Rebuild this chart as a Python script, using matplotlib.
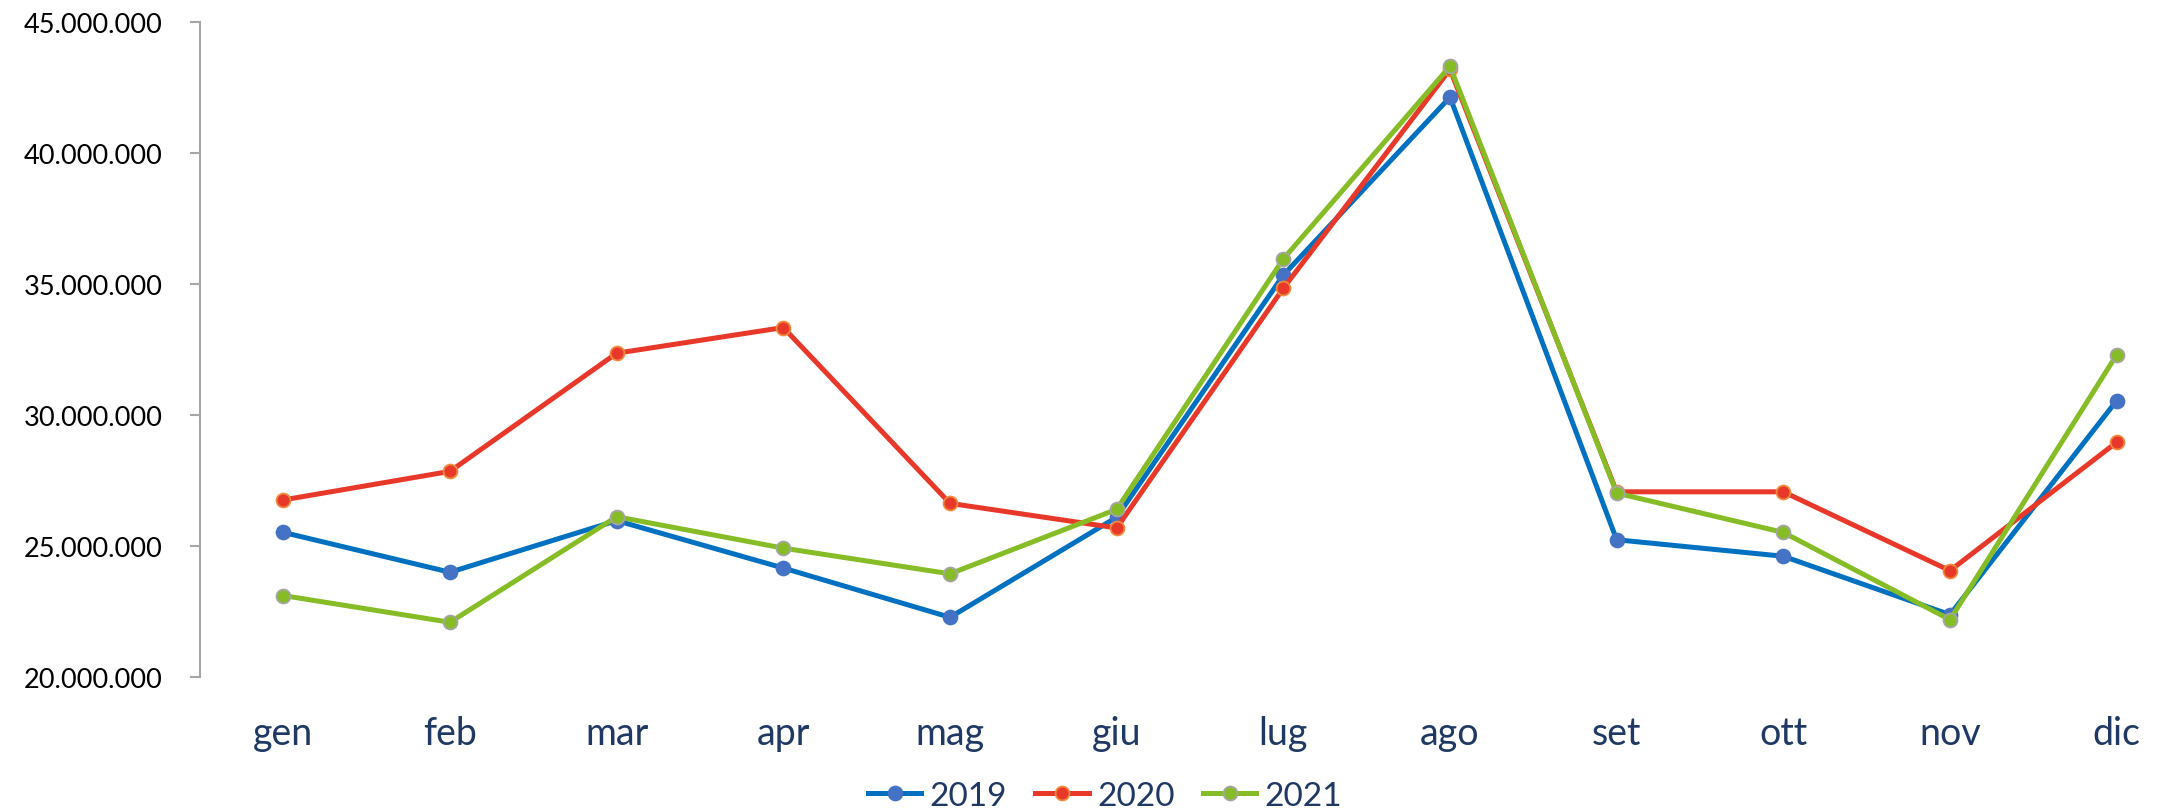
import matplotlib
matplotlib.use("Agg")
import matplotlib.pyplot as plt
from matplotlib.ticker import FuncFormatter

plt.rcParams['font.family'] = ['Lato', 'DejaVu Sans']

months = ['gen', 'feb', 'mar', 'apr', 'mag', 'giu', 'lug', 'ago', 'set', 'ott', 'nov', 'dic']

# values in millions
v2019 = [25.53, 24.01, 25.98, 24.17, 22.29, 26.11, 35.35, 42.14, 25.25, 24.62, 22.39, 30.56]
v2020 = [26.77, 27.86, 32.37, 33.35, 26.64, 25.70, 34.85, 43.20, 27.08, 27.08, 24.07, 28.97]
v2021 = [23.12, 22.10, 26.13, 24.93, 23.95, 26.41, 35.97, 43.32, 27.03, 25.53, 22.20, 32.31]

series = [
    ('2019', v2019, '#0070C0', '#4472C4', '#4472C4'),
    ('2020', v2020, '#E8382A', '#E8382A', '#F08A3C'),
    ('2021', v2021, '#86BC25', '#86BC25', '#A5A5A5'),
]

fig = plt.figure(figsize=(21.65, 8.12), dpi=100)
ax = fig.add_axes([200 / 2165, 1 - 678.3 / 812, 2000 / 2165, (678.3 - 23.3) / 812])

x = list(range(len(months)))
for name, vals, lc, fc, ec in series:
    ax.plot(x, [v * 1e6 for v in vals], color=lc, lw=3.6, marker='o', markersize=10,
            markerfacecolor=fc, markeredgecolor=ec, markeredgewidth=1.3,
            label=name, solid_joinstyle='miter')

ax.set_xlim(-0.5, 11.5)
ax.set_ylim(20e6, 45e6)
ax.set_yticks([20e6, 25e6, 30e6, 35e6, 40e6, 45e6])
ax.yaxis.set_major_formatter(FuncFormatter(lambda v, p: f'{int(v):,}'.replace(',', '.')))
ax.set_xticks(x)
ax.set_xticklabels(months)

for s in ['top', 'right', 'bottom']:
    ax.spines[s].set_visible(False)
ax.spines['left'].set_color('#A6A6A6')
ax.spines['left'].set_linewidth(1.5)

ax.tick_params(axis='y', length=7, width=1.5, color='#A6A6A6', labelsize=19.5, pad=20, labelcolor='black')
ax.tick_params(axis='x', length=0, labelsize=27, pad=27, labelcolor='#1F3864')

fig.legend(loc='center', bbox_to_anchor=(1105 / 2165, 15 / 812), ncol=3, frameon=False,
           fontsize=24, handlelength=1.6, handletextpad=0.25, columnspacing=0.85,
           labelcolor='#1F3864', borderaxespad=0, borderpad=0)

fig.savefig('out.png', dpi=100)
